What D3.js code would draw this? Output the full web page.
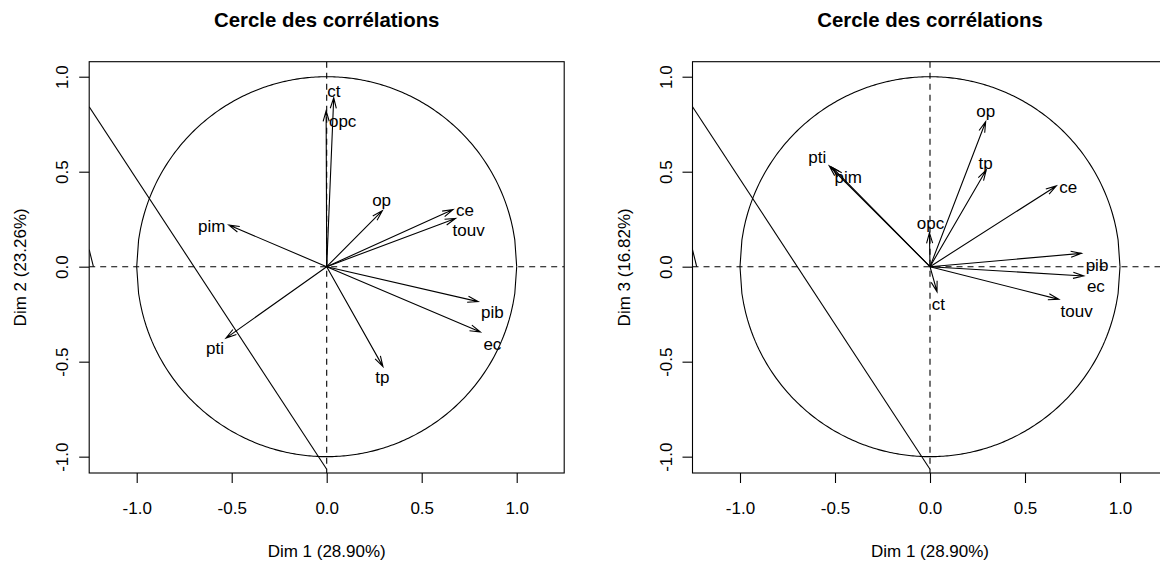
<!DOCTYPE html>
<html>
<head>
<meta charset="utf-8">
<title>Cercle des corrélations</title>
<script src="https://cdn.jsdelivr.net/npm/d3@7"></script>
<style>
    body { margin: 0; background: #fff; }
    svg { display: block; font-family: "Liberation Sans", Arial, sans-serif; }
</style>
</head>
<body>
<div id="chart"></div>
<script>
//Global Variables
let width = 1160;
let height = 561;
let panelShift = 603.3;

//Variables and their coordinates on the first three dimensions
let variables = ["ct", "opc", "op", "ce", "touv", "pim", "pib", "ec", "pti", "tp"];
let dim1 = [0.037, -0.003, 0.293, 0.665, 0.678, -0.515, 0.797, 0.809, -0.530, 0.296];
let dim2 = [0.889, 0.821, 0.295, 0.301, 0.254, 0.219, -0.184, -0.344, -0.376, -0.526];
let dim3 = [-0.132, 0.179, 0.763, 0.425, -0.172, 0.523, 0.070, -0.049, 0.530, 0.509];

//Label anchors (data units), as placed in the picture
let lab12x = [0.038, 0.084, 0.289, 0.728, 0.747, -0.605, 0.872, 0.872, -0.588, 0.293];
let lab12y = [0.920, 0.765, 0.347, 0.294, 0.189, 0.210, -0.242, -0.409, -0.432, -0.582];
let lab13x = [0.044, 0.003, 0.293, 0.728, 0.772, -0.430, 0.879, 0.873, -0.593, 0.293];
let lab13y = [-0.198, 0.228, 0.816, 0.416, -0.237, 0.471, 0.005, -0.102, 0.576, 0.544];

//Axis titles and ticks
let xTitle = "Dim 1 (28.90%)";
let yTitles = ["Dim 2 (23.26%)", "Dim 3 (16.82%)"];
let tickValues = [-1, -0.5, 0, 0.5, 1];
let mainTitle = "Cercle des corrélations";

//Stray line segments drawn on both plots
let strayLongX = [-1.25, 0];
let strayLongY = [0.842, -1.066];
let strayShortX = [-1.25, -1.228];
let strayShortY = [0.09, 0];

//Scales (shared by both panels, same aspect ratio)
let x = d3.scaleLinear().domain([-1.25, 1.25]).range([89.2, 564.2]);
let y = d3.scaleLinear().domain([-1.086, 1.079]).range([473, 61.7]);

let svg = d3.select("#chart")
    .append("svg")
    .attr("width", width)
    .attr("height", height);

/**
 * Draws one correlation circle
 * @param {number} index panel number
 * @param {array} dimY values for the vertical axis
 * @param {array} labX label positions x
 * @param {array} labY label positions y
 */
function drawPanel(index, dimY, labX, labY) {
    let g = svg.append("g")
        .attr("transform", "translate(" + (index * panelShift) + ",0)");

    let clipId = "clip" + index;
    g.append("clipPath")
        .attr("id", clipId)
        .append("rect")
        .attr("x", x.range()[0])
        .attr("y", y.range()[1])
        .attr("width", x.range()[1] - x.range()[0])
        .attr("height", y.range()[0] - y.range()[1]);

    let inner = g.append("g").attr("clip-path", "url(#" + clipId + ")");

    // dashed axes through the origin
    inner.append("line")
        .attr("x1", x.range()[0]).attr("x2", x.range()[1])
        .attr("y1", y(0)).attr("y2", y(0))
        .attr("stroke", "#000").attr("stroke-width", 1.1)
        .attr("stroke-dasharray", "6,5");
    inner.append("line")
        .attr("x1", x(0)).attr("x2", x(0))
        .attr("y1", y.range()[1]).attr("y2", y.range()[0])
        .attr("stroke", "#000").attr("stroke-width", 1.1)
        .attr("stroke-dasharray", "6,5");

    // unit circle, drawn like R does (steps of 0.01)
    let xs = d3.range(-1, 1.0001, 0.01);
    let line = d3.line()
        .x(function (d) { return x(d[0]); })
        .y(function (d) { return y(d[1]); });
    inner.append("path")
        .attr("d", line(xs.map(function (v) { return [v, Math.sqrt(Math.max(0, 1 - v * v))]; })))
        .attr("fill", "none").attr("stroke", "#000").attr("stroke-width", 1.1);
    inner.append("path")
        .attr("d", line(xs.map(function (v) { return [v, -Math.sqrt(Math.max(0, 1 - v * v))]; })))
        .attr("fill", "none").attr("stroke", "#000").attr("stroke-width", 1.1);

    // stray lines
    inner.append("path")
        .attr("d", line(d3.zip(strayLongX, strayLongY)))
        .attr("fill", "none").attr("stroke", "#000").attr("stroke-width", 1.1);
    inner.append("path")
        .attr("d", line(d3.zip(strayShortX, strayShortY)))
        .attr("fill", "none").attr("stroke", "#000").attr("stroke-width", 1.1);

    // arrows
    let headLen = 11;
    let headAngle = 16 * Math.PI / 180;
    variables.forEach(function (name, i) {
        let x0 = x(0), y0 = y(0);
        let x1 = x(dim1[i]), y1 = y(dimY[i]);
        let a = Math.atan2(y1 - y0, x1 - x0);
        let hx1 = x1 - headLen * Math.cos(a - headAngle);
        let hy1 = y1 - headLen * Math.sin(a - headAngle);
        let hx2 = x1 - headLen * Math.cos(a + headAngle);
        let hy2 = y1 - headLen * Math.sin(a + headAngle);
        g.append("path")
            .attr("d", "M" + x0 + "," + y0 + "L" + x1 + "," + y1 +
                "M" + hx1 + "," + hy1 + "L" + x1 + "," + y1 + "L" + hx2 + "," + hy2)
            .attr("fill", "none").attr("stroke", "#000").attr("stroke-width", 1.1);
        g.append("text")
            .attr("x", x(labX[i]))
            .attr("y", y(labY[i]))
            .attr("dy", "0.32em")
            .attr("text-anchor", "middle")
            .style("font-size", "17px")
            .text(name);
    });

    // box
    g.append("rect")
        .attr("x", x.range()[0])
        .attr("y", y.range()[1])
        .attr("width", x.range()[1] - x.range()[0])
        .attr("height", y.range()[0] - y.range()[1])
        .attr("fill", "none").attr("stroke", "#000").attr("stroke-width", 1.1);

    // axes
    let fmt = function (d) { return d.toFixed(1); };
    let xAxis = g.append("g")
        .attr("transform", "translate(0," + y.range()[0] + ")")
        .call(d3.axisBottom(x).tickValues(tickValues).tickFormat(fmt)
            .tickSize(10).tickSizeOuter(0).tickPadding(19));
    xAxis.select(".domain").remove();
    xAxis.selectAll("line").attr("stroke-width", 1.1);
    xAxis.selectAll("text")
        .style("font-size", "17px")
        .style("font-family", "'Liberation Sans', Arial, sans-serif");

    let yAxis = g.append("g")
        .attr("transform", "translate(" + x.range()[0] + ",0)")
        .call(d3.axisLeft(y).tickValues(tickValues).tickFormat(fmt)
            .tickSize(10).tickSizeOuter(0));
    yAxis.select(".domain").remove();
    yAxis.selectAll("line").attr("stroke-width", 1.1);
    yAxis.selectAll("text")
        .attr("x", null)
        .attr("dy", null)
        .attr("transform", "translate(-21,0) rotate(-90)")
        .attr("text-anchor", "middle")
        .style("font-size", "17px")
        .style("font-family", "'Liberation Sans', Arial, sans-serif");

    // titles
    let cx = (x.range()[0] + x.range()[1]) / 2;
    let cy = (y.range()[0] + y.range()[1]) / 2;
    g.append("text")
        .attr("x", cx).attr("y", 27)
        .attr("text-anchor", "middle")
        .style("font-size", "20.4px")
        .style("font-weight", "bold")
        .text(mainTitle);
    g.append("text")
        .attr("x", cx).attr("y", y.range()[0] + 84)
        .attr("text-anchor", "middle")
        .style("font-size", "17px")
        .text(xTitle);
    g.append("text")
        .attr("transform", "translate(" + (x.range()[0] - 63) + "," + cy + ") rotate(-90)")
        .attr("text-anchor", "middle")
        .style("font-size", "17px")
        .text(yTitles[index]);
}

drawPanel(0, dim2, lab12x, lab12y);
drawPanel(1, dim3, lab13x, lab13y);
</script>
</body>
</html>
